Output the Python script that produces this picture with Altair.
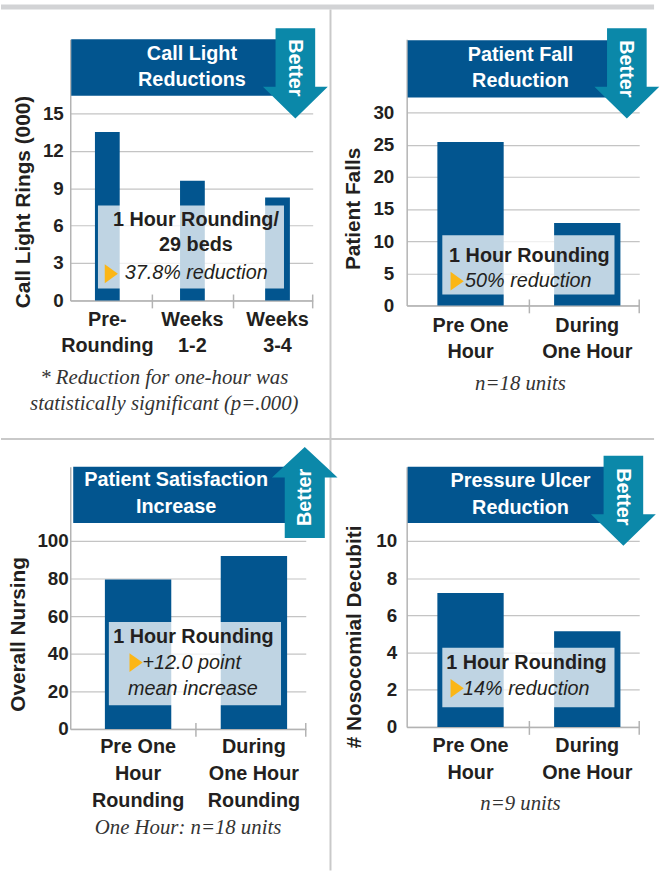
import altair as alt
import pandas as pd

BLUE = "#02558f"
TEAL = "#0b88a9"
GOLD = "#fbb616"
INK = "#231f20"
GRID = "#c4c4c4"
AXIS = "#b3b3b3"
SANS = "Liberation Sans"
SERIF = "Liberation Serif"

# ---------------- data ----------------
call_categories = ["Pre-\nRounding", "Weeks\n1-2", "Weeks\n3-4"]
call_values = [13.5, 9.6, 8.25]
call_ticks = [0, 3, 6, 9, 12, 15]

fall_categories = ["Pre One\nHour", "During\nOne Hour"]
fall_values = [25.4, 12.8]
fall_ticks = [0, 5, 10, 15, 20, 25, 30]

sat_categories = ["Pre One\nHour\nRounding", "During\nOne Hour\nRounding"]
sat_values = [79.5, 92.0]
sat_ticks = [0, 20, 40, 60, 80, 100]

ulcer_categories = ["Pre One\nHour", "During\nOne Hour"]
ulcer_values = [7.2, 5.15]
ulcer_ticks = [0, 2, 4, 6, 8, 10]

ARROW_DOWN = "M-0.44,-1L0.44,-1L0.44,0.3L0.72,0.3L0,1L-0.72,0.3L-0.44,0.3Z"
ARROW_UP = "M-0.44,1L0.44,1L0.44,-0.33L0.72,-0.33L0,-1L-0.72,-0.33L-0.44,-0.33Z"
TRI = "M-0.7,-1L0.7,0L-0.7,1Z"

one = pd.DataFrame({"k": [0]})


def deco():
    return alt.Chart(one)


def rect(x, x2, y, y2, color, opacity=1.0):
    return deco().mark_rect(color=color, opacity=opacity).encode(
        x=alt.value(x), x2=alt.value(x2), y=alt.value(y), y2=alt.value(y2))


def rule(x, x2, y, y2, color, width):
    return deco().mark_rule(color=color, strokeWidth=width).encode(
        x=alt.value(x), x2=alt.value(x2), y=alt.value(y), y2=alt.value(y2))


def text(lines, x, y, size=20, weight="bold", style="normal", color=INK,
         font=SANS, align="center", angle=0, lh=27):
    # for several lines, y is the centre of the first line
    return deco().mark_text(
        text=lines, font=font, fontSize=size, fontWeight=weight,
        fontStyle=style, color=color, align=align, baseline="middle",
        angle=angle, lineHeight=lh).encode(x=alt.value(x), y=alt.value(y))


def note(lines, x, y, lh=26.5):
    return text(lines, x, y, size=21, weight="normal", style="italic",
                color="#333333", font=SERIF, lh=lh)


def symbol(path, size, x, y, color):
    return deco().mark_point(shape=path, size=size, filled=True, color=color,
                             opacity=1, strokeWidth=0).encode(
        x=alt.value(x), y=alt.value(y))


def bars(cats, vals, ticks, ymax, xs, ytitle, tX, tY, ypad, xpad):
    df = pd.DataFrame({"cat": cats, "value": vals})
    return alt.Chart(df).mark_bar(color=BLUE).encode(
        x=alt.X("cat:N", sort=cats,
                scale=alt.Scale(paddingInner=xs[0], paddingOuter=xs[1], align=xs[2]),
                axis=alt.Axis(title=None, labelAngle=0, ticks=False, grid=False,
                              labelExpr="split(datum.label, '\\n')",
                              labelFontSize=20, labelLineHeight=27,
                              labelPadding=xpad, labelBaseline="top")),
        y=alt.Y("value:Q", scale=alt.Scale(domain=[0, ymax], nice=False),
                axis=alt.Axis(values=ticks, title=ytitle, grid=True, ticks=False,
                              labelPadding=ypad, labelFontSize=19,
                              titleX=tX, titleY=tY, titleAngle=270,
                              titleAlign="center", titleBaseline="middle",
                              titleFontSize=21)),
    )


def xticks(xs, H):
    return [rule(x, x, H - 6, H + 8, AXIS, 1.5) for x in xs]


# ---------------- panel 1 ----------------
W1, H1 = 245, 264
p1 = alt.layer(
    rect(-70, 590, -35, -30, "#d2d3d5"),
    rule(-70, 590, 404, 404, "#c9c9c9", 2),
    rule(263, 263, -30, 840, "#c9c9c9", 2),
    bars(call_categories, call_values, call_ticks, 20.95, (0.709, 0.279, 0.52),
         "Call Light Rings (000)", -47, 164, 7, 9),
    rect(28, 216, 168, 252, "white", 0.75),
    text(["1 Hour Rounding/", "29 beds"], 127, 182.5, lh=26),
    symbol(TRI, 361, 41.5, 237, GOLD),
    text("37.8% reduction", 55, 236.5, weight="normal", style="italic", align="left"),
    *xticks([83, 165, 245], H1),
    rect(1, 228, 0, 57, BLUE),
    symbol(ARROW_DOWN, 8281, 227.5, 34.5, TEAL),
    text("Better", 227.5, 29, color="white", angle=90),
    text(["Call Light", "Reductions"], 123, 14.5, color="white", lh=26.3),
    note(["* Reduction for one-hour was", "statistically significant (p=.000)"],
         95, 342, lh=26.7),
).properties(width=W1, height=H1)

# ---------------- panel 2 ----------------
W2, H2 = 235, 269
p2 = alt.layer(
    bars(fall_categories, fall_values, fall_ticks, 41.4, (0.432, 0.212, 0.62),
         "Patient Falls", -54, 171, 13, 10),
    rect(36, 210, 198, 258, "white", 0.75),
    text("1 Hour Rounding", 124, 219),
    symbol(TRI, 361, 51, 244.5, GOLD),
    text("50% reduction", 59, 244.7, weight="normal", style="italic", align="left"),
    *xticks([124, 235], H2),
    rect(1, 222, 1, 59, BLUE),
    symbol(ARROW_DOWN, 8281, 222.5, 34.5, TEAL),
    text("Better", 222, 30, color="white", angle=90),
    text(["Patient Fall", "Reduction"], 115, 16, color="white", lh=26.5),
    note("n=18 units", 115, 348.3),
).properties(width=W2, height=H2)

# ---------------- panel 3 ----------------
W3, H3 = 238, 265
p3 = alt.layer(
    bars(sat_categories, sat_values, sat_ticks, 139.5, (0.427, 0.23, 0.65),
         "Overall Nursing", -52.5, 169, 2, 8),
    rect(39, 213, 157, 241, "white", 0.75),
    text("1 Hour Rounding", 124.5, 172),
    symbol(TRI, 361, 66.5, 198, GOLD),
    text("+12.0 point", 73, 198, weight="normal", style="italic", align="left"),
    text("mean increase", 124, 225, weight="normal", style="italic"),
    *xticks([127, 238], H3),
    rect(3, 237, 0, 57, BLUE),
    symbol(ARROW_UP, 8464, 237, 26, TEAL),
    text("Better", 237, 31, color="white", angle=270),
    text(["Patient Satisfaction", "Increase"], 107, 14, color="white", lh=26.5),
    note("One Hour: n=18 units", 119, 365),
).properties(width=W3, height=H3)

# ---------------- panel 4 ----------------
W4, H4 = 235, 263
p4 = alt.layer(
    bars(ulcer_categories, ulcer_values, ulcer_ticks, 13.99, (0.432, 0.212, 0.62),
         "# Nosocomial Decubiti", -52.5, 171.5, 10, 9),
    rect(36, 210, 183, 243, "white", 0.75),
    text("1 Hour Rounding", 121, 198),
    symbol(TRI, 361, 51, 224, GOLD),
    text("14% reduction", 57, 224.5, weight="normal", style="italic", align="left"),
    *xticks([124, 235], H4),
    rect(1, 219, 0, 57, BLUE),
    symbol(ARROW_DOWN, 8281, 219, 34.5, TEAL),
    text("Better", 219, 30.5, color="white", angle=90),
    text(["Pressure Ulcer", "Reduction"], 115, 15, color="white", lh=27),
    note("n=9 units", 115, 341),
).properties(width=W4, height=H4)

chart = alt.concat(
    p1, p2, p3, p4, columns=2, spacing={"row": 163, "column": 95},
    bounds="flush", align="all",
).properties(
    padding=0, background="white"
).configure_view(stroke=None).configure_axis(
    labelFont=SANS, labelFontWeight="bold", labelColor=INK,
    titleFont=SANS, titleFontWeight="bold", titleColor=INK,
    domainColor=AXIS, domainWidth=1.5, gridColor=GRID, gridWidth=1.2,
)

chart.save("out.html", embed_options={"renderer": "svg", "actions": False})
